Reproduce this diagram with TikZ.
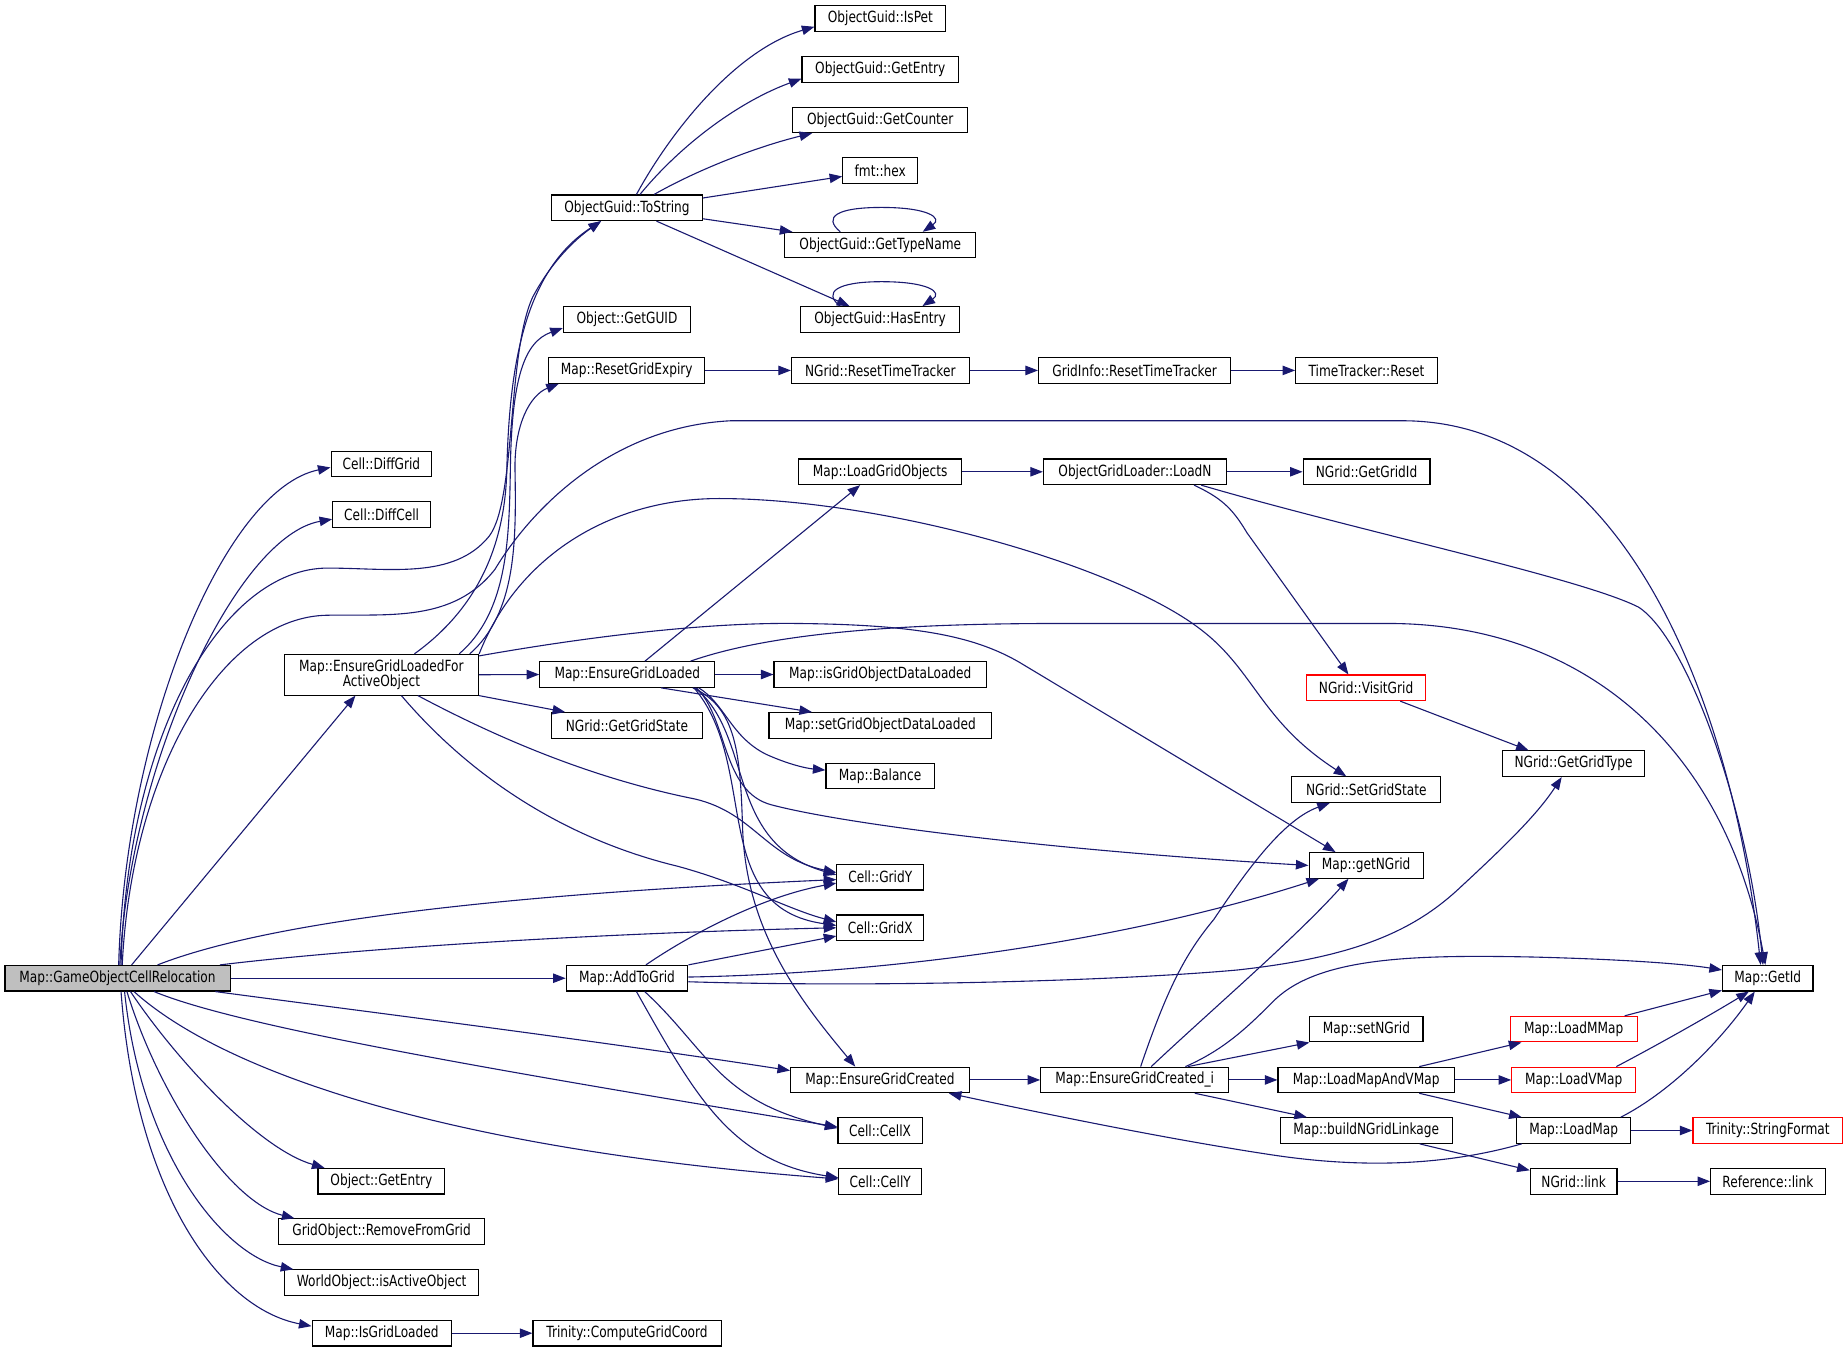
\documentclass[tikz,border=0pt]{standalone}
\usepackage{fontspec}
\setmainfont{DejaVu Sans}[FakeStretch=0.79]
\usetikzlibrary{arrows.meta,calc}
\definecolor{edgec}{HTML}{191970}
\definecolor{gfill}{HTML}{BFBFBF}
\newlength\pxu
\setlength\pxu{0.75pt}
\tikzset{
 box/.style={draw=black, line width=0.7pt, fill=white, inner sep=0pt, minimum height=21.7\pxu, font=\fontsize{9.8}{10.5}\selectfont},
 redbox/.style={box, draw=red},
 rootbox/.style={box, fill=gfill},
 e/.style={draw=edgec, line width=0.7pt, -{Triangle[length=8pt,width=6pt]}},
}
\begin{document}
\begin{tikzpicture}[x=0.75pt,y=-0.75pt]
\useasboundingbox (0,0) rectangle (1568,1147);
% nodes
\node[rootbox,minimum width=191\pxu] (G) at (99.7,830) {Map::GameObjectCellRelocation};
\node[box,minimum width=85.4\pxu] (DiffGrid) at (323.6,393.6) {Cell::DiffGrid};
\node[box,minimum width=83\pxu] (DiffCell) at (323.8,436.5) {Cell::DiffCell};
\node[box,minimum width=165\pxu,minimum height=34.5\pxu,align=center,font=\fontsize{9.8}{9.6}\selectfont] (EGLFAO) at (323.6,572.5) {Map::EnsureGridLoadedFor\\ActiveObject};
\node[box,minimum width=128\pxu] (ToString) at (532,176.3) {ObjectGuid::ToString};
\node[box,minimum width=108\pxu] (GetGUID) at (532,271) {Object::GetGUID};
\node[box,minimum width=132.4\pxu] (RGE) at (531.8,314.3) {Map::ResetGridExpiry};
\node[box,minimum width=111\pxu] (IsPet) at (747,15.7) {ObjectGuid::IsPet};
\node[box,minimum width=132.8\pxu] (OGGetEntry) at (746.9,58.8) {ObjectGuid::GetEntry};
\node[box,minimum width=148.7\pxu] (GetCounter) at (746.9,101.7) {ObjectGuid::GetCounter};
\node[box,minimum width=63.7\pxu] (hex) at (746.9,144.7) {fmt::hex};
\node[box,minimum width=162.2\pxu] (GetTypeName) at (746.9,208) {ObjectGuid::GetTypeName};
\node[box,minimum width=135\pxu] (HasEntry) at (746.7,271) {ObjectGuid::HasEntry};
\node[box,minimum width=150.7\pxu] (NGridRTT) at (746.9,314.3) {NGrid::ResetTimeTracker};
\node[box,minimum width=163\pxu] (GridInfoRTT) at (962.7,314.3) {GridInfo::ResetTimeTracker};
\node[box,minimum width=120.1\pxu] (TTReset) at (1159.4,314.3) {TimeTracker::Reset};
\node[box,minimum width=138.5\pxu] (LGO) at (746.8,400.3) {Map::LoadGridObjects};
\node[box,minimum width=155.3\pxu] (LoadN) at (963,400.3) {ObjectGridLoader::LoadN};
\node[box,minimum width=107.6\pxu] (GetGridId) at (1159.5,400.3) {NGrid::GetGridId};
\node[box,minimum width=148.4\pxu] (EGL) at (532.2,572.3) {Map::EnsureGridLoaded};
\node[box,minimum width=180.3\pxu] (isGODL) at (746.9,572.3) {Map::isGridObjectDataLoaded};
\node[box,minimum width=128\pxu] (GetGridState) at (532,615.5) {NGrid::GetGridState};
\node[box,minimum width=188.9\pxu] (setGODL) at (746.9,615.5) {Map::setGridObjectDataLoaded};
\node[box,minimum width=91.9\pxu] (Balance) at (746.8,658.4) {Map::Balance};
\node[redbox,minimum width=101.2\pxu] (VisitGrid) at (1159.1,583.6) {NGrid::VisitGrid};
\node[box,minimum width=121.2\pxu] (GetGridType) at (1335.1,648) {NGrid::GetGridType};
\node[box,minimum width=126.6\pxu] (SetGridState) at (1159.3,670) {NGrid::SetGridState};
\node[box,minimum width=97\pxu] (getNGrid) at (1159.2,734.3) {Map::getNGrid};
\node[box,minimum width=73.7\pxu] (GridY) at (746.9,744.3) {Cell::GridY};
\node[box,minimum width=73.7\pxu] (GridX) at (746.9,787.2) {Cell::GridX};
\node[box,minimum width=103.2\pxu] (A2G) at (532,830) {Map::AddToGrid};
\node[box,minimum width=76.8\pxu] (GetId) at (1499.9,830) {Map::GetId};
\node[box,minimum width=95.9\pxu] (setNGrid) at (1159.4,873.2) {Map::setNGrid};
\node[redbox,minimum width=107.7\pxu] (LoadMMap) at (1335.2,873.2) {Map::LoadMMap};
\node[box,minimum width=151.8\pxu] (EGC) at (746.7,916.3) {Map::EnsureGridCreated};
\node[box,minimum width=159.6\pxu] (EGCi) at (962.8,916.3) {Map::EnsureGridCreated\_i};
\node[box,minimum width=149.7\pxu] (LMAV) at (1159.2,916.3) {Map::LoadMapAndVMap};
\node[redbox,minimum width=105.3\pxu] (LoadVMap) at (1335.3,916.3) {Map::LoadVMap};
\node[box,minimum width=145.7\pxu] (bNGL) at (1159.2,959.2) {Map::buildNGridLinkage};
\node[box,minimum width=97.2\pxu] (LoadMap) at (1335.2,959.2) {Map::LoadMap};
\node[redbox,minimum width=127.1\pxu] (StringFormat) at (1500,959.2) {Trinity::StringFormat};
\node[box,minimum width=71.3\pxu] (CellX) at (746.7,959.2) {Cell::CellX};
\node[box,minimum width=70.3\pxu] (CellY) at (746.9,1002.3) {Cell::CellY};
\node[box,minimum width=73.6\pxu] (NGridlink) at (1335.2,1002.3) {NGrid::link};
\node[box,minimum width=97.1\pxu] (Reflink) at (1500,1002.3) {Reference::link};
\node[box,minimum width=107.6\pxu] (ObjGetEntry) at (323.6,1002.2) {Object::GetEntry};
\node[box,minimum width=175\pxu] (RFG) at (323.8,1045) {GridObject::RemoveFromGrid};
\node[box,minimum width=164.9\pxu] (IAO) at (323.8,1088.3) {WorldObject::isActiveObject};
\node[box,minimum width=118.2\pxu] (IGL) at (323.9,1131.2) {Map::IsGridLoaded};
\node[box,minimum width=159.6\pxu] (CGC) at (532,1131.2) {Trinity::ComputeGridCoord};
% edges from root
\draw[e] ($(G.north)+(1,0)$) .. controls (106,620) and (190,415) .. ($(DiffGrid.west)+(0,3)$);
\draw[e] ($(G.north)+(2,0)$) .. controls (110,650) and (200,455) .. ($(DiffCell.west)+(0,4)$);
\draw[e] ($(G.north)+(3,0)$) .. controls (108,620) and (190,482) .. (278,482) .. controls (330,482) and (385,492) .. (415,455) .. controls (438,425) and (430,300) .. (452,252) .. controls (468,222) and (488,203) .. ($(ToString.south)+(-22,0)$);
\draw[e] ($(G.north)+(4,0)$) .. controls (112,650) and (190,523) .. (278,522) .. controls (330,521) and (385,528) .. (420,483) .. controls (452,430) and (520,362) .. (620,357) -- (1190,357) .. controls (1380,357) and (1470,600) .. ($(GetId.north)+(-6,0)$);
\draw[e] ($(G.north)+(12,0)$) -- ($(EGLFAO.south)+(-22,0)$);
\draw[e] ($(G.north)+(34,0)$) .. controls (220,785) and (400,760) .. ($(GridY.west)+(0,2)$);
\draw[e] ($(G.north east)+(-9,0)$) .. controls (300,805) and (500,792) .. (GridX.west);
\draw[e] (G.east) -- (A2G.west);
\draw[e] ($(G.south east)+(-13,0)$) .. controls (300,857) and (500,882) .. ($(EGC.west)+(0,-8)$);
\draw[e] ($(G.south)+(31,0)$) .. controls (200,870) and (400,905) .. ($(CellX.west)+(0,-3)$);
\draw[e] ($(G.south)+(14,0)$) .. controls (190,910) and (380,975) .. ($(CellY.west)+(0,-2)$);
\draw[e] ($(G.south)+(11,0)$) .. controls (150,900) and (220,975) .. ($(ObjGetEntry.north west)+(6,0)$);
\draw[e] ($(G.south)+(8,0)$) .. controls (135,930) and (195,1020) .. ($(RFG.north west)+(14,0)$);
\draw[e] ($(G.south)+(6,0)$) .. controls (120,980) and (190,1065) .. ($(IAO.north west)+(8,0)$);
\draw[e] ($(G.south)+(3,0)$) .. controls (115,1010) and (185,1110) .. ($(IGL.west)+(0,-6)$);
% EnsureGridLoadedForActiveObject
\draw[e] ($(EGLFAO.north)+(28,0)$) .. controls (400,520) and (428,470) .. (430,400) .. controls (432,310) and (445,230) .. ($(ToString.south)+(-22,0)$);
\draw[e] ($(EGLFAO.north)+(66,0)$) .. controls (430,520) and (432,460) .. (433,400) .. controls (434,320) and (445,290) .. ($(GetGUID.south west)+(0,-4)$);
\draw[e] ($(EGLFAO.north)+(75,0)$) .. controls (438,520) and (438,460) .. (437,400) .. controls (436,360) and (450,335) .. ($(RGE.south west)+(9,0)$);
\draw[e] (EGLFAO.north east) .. controls (440,470) and (520,423) .. (610,423) .. controls (750,423) and (950,480) .. (1020,535) .. controls (1065,570) and (1070,612) .. ($(SetGridState.north)+(-17,0)$);
\draw[e] ($(EGLFAO.east)+(0,-16)$) .. controls (500,540) and (600,528) .. (676,529) .. controls (780,530) and (830,540) .. (870,565) -- ($(getNGrid.north)+(-26,0)$);
\draw[e] (EGLFAO.east) -- (EGL.west);
\draw[e] (EGLFAO.south east) -- ($(GetGridState.north west)+(12,0)$);
\draw[e] ($(EGLFAO.south)+(31,0)$) .. controls (420,625) and (500,660) .. (590,678) .. controls (640,690) and (650,728) .. ($(GridY.west)+(0,-4)$);
\draw[e] ($(EGLFAO.south)+(17,0)$) .. controls (400,660) and (480,712) .. (575,735) .. controls (630,750) and (670,772) .. ($(GridX.west)+(0,-5)$);
% EnsureGridLoaded
\draw[e] ($(EGL.north)+(15,0)$) -- ($(LGO.south)+(-17,0)$);
\draw[e] (EGL.east) -- (isGODL.west);
\draw[e] ($(EGL.south east)+(-46,0)$) -- ($(setGODL.north west)+(37,0)$);
\draw[e] ($(EGL.south east)+(-14,0)$) .. controls (615,597) and (620,625) .. (650,640) .. controls (670,649) and (685,652) .. ($(Balance.west)+(0,-5)$);
\draw[e] ($(EGL.north east)+(-21,0)$) .. controls (660,535) and (780,529) .. (900,529) -- (1180,529) .. controls (1350,530) and (1465,640) .. ($(GetId.north)+(-2,0)$);
\draw[e] ($(EGL.south east)+(-16,0)$) .. controls (618,610) and (612,672) .. (655,683) .. controls (720,700) and (900,722) .. (getNGrid.west);
\draw[e] ($(EGL.south east)+(-17,0)$) .. controls (640,625) and (615,715) .. ($(GridY.west)+(0,-2)$);
\draw[e] ($(EGL.south east)+(-18,0)$) .. controls (645,650) and (600,770) .. ($(GridX.west)+(0,-2)$);
\draw[e] ($(EGL.south east)+(-19,0)$) .. controls (625,600) and (628,640) .. (630,700) .. controls (632,790) and (680,850) .. ($(EGC.north)+(-21,0)$);
% AddToGrid
\draw[e] ($(A2G.north)+(16,0)$) .. controls (590,790) and (650,760) .. ($(GridY.west)+(0,5)$);
\draw[e] (A2G.north east) -- ($(GridX.west)+(0,7)$);
\draw[e] ($(A2G.east)+(0,-1)$) .. controls (750,826) and (950,800) .. ($(getNGrid.south west)+(9,0)$);
\draw[e] ($(A2G.east)+(0,3)$) .. controls (750,838) and (950,832) .. (1050,823) .. controls (1150,812) and (1200,790) .. (1240,752) .. controls (1280,715) and (1305,690) .. ($(GetGridType.south)+(-10,0)$);
\draw[e] ($(A2G.south)+(15,0)$) .. controls (600,890) and (610,935) .. ($(CellX.west)+(0,-2)$);
\draw[e] ($(A2G.south)+(8,0)$) .. controls (590,930) and (620,985) .. ($(CellY.west)+(0,-3)$);
% ToString
\draw[e] ($(ToString.north)+(8,0)$) .. controls (570,110) and (625,42) .. ($(IsPet.west)+(0,7)$);
\draw[e] ($(ToString.north)+(11,0)$) .. controls (580,120) and (630,85) .. ($(OGGetEntry.west)+(0,8)$);
\draw[e] ($(ToString.north)+(23,0)$) .. controls (590,145) and (640,125) .. ($(GetCounter.south west)+(17,0)$);
\draw[e] ($(ToString.north east)+(0,3)$) -- ($(hex.west)+(0,5)$);
\draw[e] ($(ToString.south east)+(0,-2)$) -- ($(GetTypeName.north west)+(7,0)$);
\draw[e] ($(ToString.south)+(25,0)$) -- ($(HasEntry.north west)+(42,0)$);
\draw[e] ($(GetTypeName.north)+(-34,0)$) .. controls (698,184) and (710,176) .. (748,176) .. controls (788,176) and (800,185) .. ($(GetTypeName.north)+(36,0)$);
\draw[e] ($(HasEntry.north)+(-34,0)$) .. controls (698,248) and (710,239) .. (748,239) .. controls (788,239) and (800,248) .. ($(HasEntry.north)+(36,0)$);
% ResetGridExpiry chain
\draw[e] (RGE.east) -- (NGridRTT.west);
\draw[e] (NGridRTT.east) -- (GridInfoRTT.west);
\draw[e] (GridInfoRTT.east) -- (TTReset.west);
% LoadGridObjects chain
\draw[e] (LGO.east) -- (LoadN.west);
\draw[e] (LoadN.east) -- (GetGridId.west);
\draw[e] ($(LoadN.south east)+(-22,0)$) .. controls (1150,450) and (1340,490) .. (1390,515) .. controls (1430,540) and (1482,680) .. ($(GetId.north)+(-4,0)$);
\draw[e] ($(LoadN.south east)+(-28,0)$) .. controls (1035,422) and (1045,430) .. (1058,452) -- ($(VisitGrid.north)+(-15,0)$);
\draw[e] ($(VisitGrid.south)+(29,0)$) -- ($(GetGridType.north west)+(23,0)$);
% EnsureGridCreated
\draw[e] (EGC.east) -- (EGCi.west);
\draw[e] ($(EGCi.north)+(5,0)$) .. controls (990,840) and (1005,810) .. (1030,780) .. controls (1060,735) and (1090,695) .. ($(SetGridState.south)+(-31,0)$);
\draw[e] ($(EGCi.north)+(14,0)$) .. controls (1030,855) and (1100,795) .. ($(getNGrid.south)+(-15,0)$);
\draw[e] ($(EGCi.north)+(43,0)$) .. controls (1040,890) and (1060,870) .. (1082,848) .. controls (1120,812) and (1200,810) .. (1300,812) .. controls (1380,814) and (1430,818) .. ($(GetId.west)+(0,-7)$);
\draw[e] ($(EGCi.north)+(45,0)$) -- (setNGrid.south west);
\draw[e] (EGCi.east) -- (LMAV.west);
\draw[e] ($(EGCi.south)+(51,0)$) -- ($(bNGL.north west)+(23,0)$);
\draw[e] ($(LMAV.north)+(45,0)$) -- ($(LoadMMap.south west)+(10,0)$);
\draw[e] (LMAV.east) -- (LoadVMap.west);
\draw[e] ($(LMAV.south)+(45,0)$) -- ($(LoadMap.north west)+(5,0)$);
\draw[e] ($(LoadMMap.north east)+(-11,0)$) -- ($(GetId.south west)+(0,-1)$);
\draw[e] ($(LoadVMap.north east)+(-17,0)$) .. controls (1400,890) and (1445,865) .. ($(GetId.south)+(-16,0)$);
\draw[e] ($(LoadMap.north east)+(-9,0)$) .. controls (1420,925) and (1462,880) .. ($(GetId.south)+(-11,0)$);
\draw[e] (LoadMap.east) -- (StringFormat.west);
\draw[e] ($(LoadMap.south west)+(5,0)$) .. controls (1230,988) and (1160,992) .. (1080,980) .. controls (1000,968) and (900,948) .. ($(EGC.south east)+(-18,0)$);
\draw[e] ($(bNGL.south east)+(-28,0)$) -- ($(NGridlink.north west)+(0,2)$);
\draw[e] (NGridlink.east) -- (Reflink.west);
\draw[e] (IGL.east) -- (CGC.west);
\end{tikzpicture}
\end{document}
